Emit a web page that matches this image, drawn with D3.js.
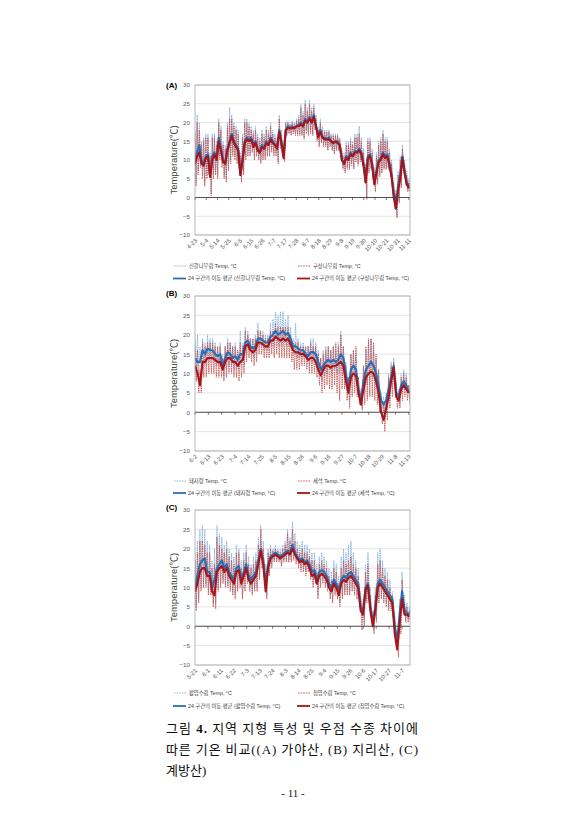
<!DOCTYPE html>
<html><head><meta charset="utf-8">
<script src="https://cdn.jsdelivr.net/npm/d3@7"></script>
<style>
html,body{margin:0;padding:0;background:#fff;}
svg{display:block;}
</style></head><body>
<svg id="page" width="585" height="840"></svg>
<script>
// ---------- tick labels ----------
const ticksA = ["4-23","5-4","5-14","5-25","6-5","6-15","6-26","7-7","7-17","7-28","8-7","8-18","8-29","9-8","9-19","9-30","10-10","10-21","10-31","11-11"];
const ticksB = ["6-2","6-13","6-23","7-4","7-14","7-25","8-5","8-15","8-26","9-6","9-16","9-27","10-7","10-18","10-29","11-8","11-19"];
const ticksC = ["5-21","6-1","6-11","6-22","7-3","7-13","7-24","8-3","8-14","8-25","9-4","9-15","9-26","10-6","10-17","10-27","11-7"];
const yTicks = [-10,-5,0,5,10,15,20,25,30];

// ---------- legend names ----------
const namesA = ["신갈나무림 Temp, °C","구상나무림 Temp, °C","24 구간의 이동 평균 (신갈나무림 Temp, °C)","24 구간의 이동 평균 (구상나무림 Temp, °C)"];
const namesB = ["돼지령 Temp, °C","세석 Temp, °C","24 구간의 이동 평균 (돼지령 Temp, °C)","24 구간의 이동 평균 (세석 Temp, °C)"];
const namesC = ["활엽수림 Temp, °C","침엽수림 Temp, °C","24 구간의 이동 평균 (활엽수림 Temp, °C)","24 구간의 이동 평균 (침엽수림 Temp, °C)"];

// ---------- (A) 가야산 : daily highs / lows (raw) and moving averages ----------
const aHiBlue = [18,22,20,15,16,17,17,12,17,17,15,21,19,15,14,20,24,22,20,19,18,12,17,21,21,20,19,18,19,17,16,18,17,19,18,20,18,17,16,22,18,14,20,20.5,20,20.5,20,21,22,25,23,26,24,26,24,25,22,19,21,19,18,18,18,17,17,17,17,16,13,12,15,15,16,15,17,17,19,16,13,9,16,16,13,8,12,15,16,18,16,16,13,10,4,2,7,11,14,10,7,5];
const aLoBlue = [4,7,9,6,4,6,7,1,6,7,6,11,9,6,5,8,10,12,11,10,9,5,7,11,12,12,13,11,12,11,10,11,11,12,12,13,12,12,9.5,14,12,10,17,17.5,17,17.5,17,17,17,17,16,18,17,18,17,19,16,14,15,14,14,13,14,13,12,13,13,12,8,7,8,8,9,8,10,9,10,9,5,0,7,8,6,2,4,6,7,8,8,8,6,3,-2,-5,-1,3,8,4,2,2];
const aHiRed = [17,20,18,14,15,16,16,11,16,16,14,20,18,14,13,19,21,21,19,18,17,11,16,20,20,19,18,17,18,16,15,17,16,18,17,19,17,16,15,21,17,13,20,20,19.5,20,19.5,20.5,21,24,22,25,23,25,23,24,21,18,20,18,17.5,17.5,17.5,16.5,16.5,16.5,16.5,15.5,12,11,14,14,15,14,16,16,17,15,12,8,15,15,12,7,11,14,15,17,15,15,12,9,3,1,6,10,13,9,6,4];
const aLoRed = [3,6,8,5,3,5,6,0.5,5,6,5,10,8,5,4,7,9,11,10,9,8,4,6,10,11,11,12,10,11,10,9,10,10,11,11,12,11,11,9,13,11,9.5,16.5,17,16.5,17,16.5,16.5,16.5,16.5,15.5,17,16.5,17,16.5,18,15,13.5,14.5,13.5,13.5,12.5,13.5,12.5,11.5,12.5,12.5,11.5,7.5,6.5,7.5,7.5,8.5,7.5,9.5,8.5,9.5,8.5,4,-0.5,6.5,7.5,5.5,1.5,3.5,5.5,6.5,7.5,7.5,7.5,5.5,2.5,-3,-5.5,-1.5,2.5,7.5,3.5,1.5,1.5];
const aAvgBlue = [10,12,14,10,9,11,11.5,6,11,12,10,16,13,10,9,13,15,17,15,14,13,6,10,15,16,15.5,16,14,15,13,12,14,13,15,14,16,15,14,13.5,18,15,11,18,19,18.5,19,18.5,19,19.5,20,19,21,20,21.5,20,22,19,16.5,18,16,16,15.5,16,15,14.5,15,15,14,10,9,11,10.5,12,11,12.5,12,13,12,9,5,11,11.5,9,4,7,10,10.5,12,11,11.5,9,6,1,-2,3,6,11,7,4,3];
const aAvgRed = [9,11,12,9,8.5,10.5,11,5.5,10,11.5,10,15,12.5,9.5,9,12.5,14.5,16.5,14.5,13.5,12.5,6,10,14.5,15.5,15,15.5,13.5,14.5,12.5,12,13.5,13,14.5,14,15.5,14.5,14,13,17.5,14.5,10.5,18,18.5,18.5,18.5,18.5,19,19,19.5,19,20.5,20,21,20,21.5,19,16,17.5,16,15.5,15.5,15.5,15,14.5,15,14.5,14,10,9,10.5,10,11.5,11,12,12,12.5,11.5,8.5,4,10.5,11,8.5,3.5,6.5,9.5,10,11.5,10.5,11,8.5,5.5,0,-3,2,5,10.5,6.5,3.5,2.5];

// ---------- (B) 지리산 ----------
const bHiBlue = [19,20,17,19,18,20,19,19,18,17,18,15,17,19,18,17,18,16,21,18,22,21,19,19,20,23,21,21,20,20,23,24,26,25,26,26,24,25,22,19,23,19,18,18,17,17,19,19,18,16,14,16,17,17,16,17,16,18,21,17,13,9,15,16,15,9,6,12,16,18,19,17,14,11,5,4,5,10,13,14,8,6,10,11,10,7];
const bLoBlue = [11,9,9,13,12,13,13,13,12,12,12,9,11,12,12,11,11,11,12,12,15,16,15,14,15,17,17,16,16,16,17,17,18,17,17,18,17,17,16,15,14,14,14,14,13,12,13,13,12,10,8,9,10,11,10,11,10,10,11,11,7,3,8,9,8,4,1,5,7,8,9,8,7,4,1,0,1,3,6,10,3,2,5,6,5,3];
const bHiRed = [17,16,11,18,17,18,18,18,17,17,17,14,17,18,18,17,17,16,18,17,21,20,19,19,19,21,21,20,19,19,21,21,23,22,22,22,22,22,20,18,18,18,17,17,17,17,18,17,17,15,14,15,16,17,16,17,18,17,20,17,12,9,15,16,17,9,5,12,17,19,19,18,15,11,4,2,3,9,12,13,7,5,9,10,9,7];
const bLoRed = [8,5,5,9,9,10,10,10,9,9,9,8,9,10,10,9,9,8,9,10,13,14,13,12,13,15,15,14,14,14,15,14,15,14,14,14,14,14,13,11,11,11,12,12,11,10,10,10,9,7,5,6,7,6,6,7,5,3,6,6,3,1,4,5,4,2,0.5,2,3,4,4,3,2,0,-3,-5,-2,1,4,9,1,1,3,4,3,2];
const bAvgBlue = [14,13,13,16,15,16.5,16,16,15,14.5,15,12,14,15.5,15,14,14.5,13.5,15,15,18,18.5,17,16.5,17,19,19,18.5,18,18,19.5,20,21,20,20.5,21,20,20.5,19,17,17,16.5,16,16,15,14.5,15.5,15.5,15,13,11,12,13,13.5,13,13.5,13,13.5,15,14,10,6,11,12,11,6,3,8,11,12,13,12,10,7,3,2,3,6,9,12,5,4,7,8,7,5];
const bAvgRed = [12,10,7,13,13,14,14,14,13.5,13,13,11,13,14,14,13,13,12,13,13.5,17,17.5,16,15.5,16,18,18,17.5,17,17,18.5,18.5,19.5,19,18.5,19,18.5,19,17.5,16,15.5,15.5,15,15,14.5,13.5,14,14,13,11,9.5,11,12,12,11.5,12,12,12.5,13,12,8,5,9,10,9.5,5,2,6,9,10,10.5,10,8,5,0,-2,1,4,8,11.5,4,3,6,7,6,5];

// ---------- (C) 계방산 ----------
const cHiBlue = [19,22,25,26,25,22,21,17,20,26,24,23,21,22,20,19,18,21,20,17,19,21,18,16,18,19,23,26,22,16,20,21,20,21,20,20,21,22,25,23,27,24,22,21,22,21,21,20,19,19,16,18,19,18,17,15,14,17,16,13,18,20,19,21,22,19,17,15,9,7,16,19,10,4,10,19,20,17,15,14,12,9,3,-1,7,14,8,6,5];
const cLoBlue = [5,7,10,11,11,9,9,6,6,10,11,12,11,11,10,9,8,10,11,8,10,12,10,9,10,10,13,16,14,8,14,16,17,17,17,16,17,17,17,17,18,17,16,15,15,14,15,13,11,12,8,11,12,11,10,8,7,9,8,6,8,9,9,9,10,9,8,7,2,1,7,8,2,-1,2,7,8,7,6,5,5,4,-2,-5,0,5,2,2,1];
const cHiRed = [17,19,22,22,21,19,19,15,16,23,21,20,19,20,18,17,16,19,19,15,17,19,16,15,16,17,21,25,20,13,19,20,19.5,20,19.5,19,20,21,24,22,25,22,20,19,20,19,19,18,17,17,14,16,17,16,15,13,12,15,14,11,15,17,16,17,18,16,15,13,7,5,14,16,8,2,8,16,17,15,13,12,10,8,1,-3,5,12,6,5,4];
const cLoRed = [4,6,9,10,10,8,8,5,4.5,9,10,11,10,10,9,8,7,9,10,7,9,11,9,8,9,9,12,15,12,7,13,15,16.5,16.5,16.5,15.5,16.5,16.5,16.5,16.5,17,16,15,14,14,13,14,12,10,11,7,10,11,10,9,7,6,8,7,5,7,8,8,8,9,8,7,6,-1,0,6,7,1,-2,1,6,7,6,5,4,4,3,-4,-8,-2,4,1,1,0.5];
const cAvgBlue = [10,13,16,17,17.5,14,14,10,12,15,16,17,15,16,14,13,12,15,15.5,12,14,16,13,12,13,14,17,20,17,11,16,18,18.5,19,18.5,18,18.5,19,19.5,19,21,19,18,17,17.5,16.5,17,16,14,14.5,12,14,14.5,14,13,11,10,12,11,9,12,13,12.5,13.5,14,13,12,11,5,4,10,11,5,1,5,11,12,11,10,9,8,7,0,-4,3,9,4,3.5,3];
const cAvgRed = [9,11,14,15,15,13,13,9,8,14,15,15.5,14,15,13,12,11,14,14.5,11,13,15,12,11,12,13,16,19.5,16,9,15,17.5,18,18.5,18,17.5,18,18.5,19,18.5,20,18.5,17.5,16.5,17,16,16.5,15,13,13.5,11,13,13.5,13,12,10,9,11,10,8,11,12,11.5,12.5,13,12,11,10,4,3,9.5,10.5,4,0,4,10,11,10,9,8,7,6,-2,-6,1,7,3,3,2.5];

// ---------- layout ----------
const COL = {rawBlue:"#86b3e0", rawRed:"#c0504d", avgBlue:"#2a6fb5", avgRed:"#a8141a"};
const FONT = "'Liberation Sans','Noto Sans CJK KR',sans-serif";
const panels = [
  {tag:"(A)", tagY:88, top:85, bottom:235, days:203, step:2.04, labelStep:10.625, ticks:ticksA, names:namesA, legY:266, legGap:12.5,
   hiB:aHiBlue, loB:aLoBlue, hiR:aHiRed, loR:aLoRed, avB:aAvgBlue, avR:aAvgRed},
  {tag:"(B)", tagY:296, top:296, bottom:451, days:171, step:2, labelStep:10.625, ticks:ticksB, names:namesB, legY:481, legGap:12,
   hiB:bHiBlue, loB:bLoBlue, hiR:bHiRed, loR:bLoRed, avB:bAvgBlue, avR:bAvgRed},
  {tag:"(C)", tagY:510, top:510, bottom:665, days:176.5, step:2, labelStep:10.625, ticks:ticksC, names:namesC, legY:693, legGap:13,
   hiB:cHiBlue, loB:cLoBlue, hiR:cHiRed, loR:cLoRed, avB:cAvgBlue, avR:cAvgRed}
];
const L = 195, R = 410;

const svg = d3.select("#page");
svg.append("rect").attr("width",585).attr("height",840).attr("fill","#fff");

panels.forEach((p, k) => {
  const x = d3.scaleLinear().domain([0, p.days]).range([L, R]);
  const y = d3.scaleLinear().domain([-10, 30]).range([p.bottom, p.top]);
  const g = svg.append("g");
  const tickPos = p.ticks.map((_, i) => i * p.labelStep);

  // grid
  g.append("g").selectAll("line").data(yTicks).join("line")
    .attr("x1", L).attr("x2", R).attr("y1", d => y(d)).attr("y2", d => y(d))
    .attr("stroke", "#d9d9d9").attr("stroke-width", 0.7);

  // y axis labels
  const ya = g.append("g").attr("transform", `translate(${L},0)`)
    .call(d3.axisLeft(y).tickValues(yTicks).tickSize(0).tickPadding(5));
  ya.select(".domain").remove();
  ya.selectAll("text").attr("font-family", FONT).attr("font-size", 6.2).attr("fill", "#595959");

  // x axis labels (below plot)
  const xa = g.append("g").attr("transform", `translate(0,${p.bottom})`)
    .call(d3.axisBottom(x).tickValues(tickPos).tickFormat((d, i) => p.ticks[i]).tickSize(0));
  xa.select(".domain").remove();
  xa.selectAll("text").attr("font-family", FONT).attr("font-size", 5.9).attr("fill", "#595959")
    .attr("text-anchor", "end").attr("y", 0).attr("dy", 0)
    .attr("transform", "translate(2,6) rotate(-45)");

  // clip
  const cid = "clip" + k;
  svg.append("clipPath").attr("id", cid).append("rect")
    .attr("x", L).attr("y", p.top).attr("width", R - L).attr("height", p.bottom - p.top);
  const plot = g.append("g").attr("clip-path", `url(#${cid})`);

  const line = d3.line().x(d => x(d[0])).y(d => y(d[1]));
  const zig = (hi, lo) => hi.flatMap((h, i) => [[i * p.step, h], [i * p.step + p.step / 2, lo[i]]]);
  const avg = arr => arr.map((v, i) => [i * p.step, v]);

  plot.append("path").attr("d", line(zig(p.hiB, p.loB))).attr("fill", "none")
    .attr("stroke", COL.rawBlue).attr("stroke-width", 0.9).attr("stroke-dasharray", "1.5,0.8");
  plot.append("path").attr("d", line(zig(p.hiR, p.loR))).attr("fill", "none")
    .attr("stroke", COL.rawRed).attr("stroke-width", 0.85).attr("stroke-dasharray", "1.5,0.8");
  plot.append("path").attr("d", line(avg(p.avB))).attr("fill", "none")
    .attr("stroke", COL.avgBlue).attr("stroke-width", 2.2).attr("stroke-linejoin", "round");
  plot.append("path").attr("d", line(avg(p.avR))).attr("fill", "none")
    .attr("stroke", COL.avgRed).attr("stroke-width", 2.1).attr("stroke-linejoin", "round");

  // zero line with tick marks, and frame
  g.append("line").attr("x1", L).attr("x2", R).attr("y1", y(0)).attr("y2", y(0))
    .attr("stroke", "#404040").attr("stroke-width", 0.9);
  g.append("g").selectAll("line").data(tickPos).join("line")
    .attr("x1", d => x(d)).attr("x2", d => x(d)).attr("y1", y(0)).attr("y2", y(0) + 2.5)
    .attr("stroke", "#404040").attr("stroke-width", 0.7);
  g.append("rect").attr("x", L).attr("y", p.top).attr("width", R - L).attr("height", p.bottom - p.top)
    .attr("fill", "none").attr("stroke", "#a6a6a6").attr("stroke-width", 0.8);

  // titles
  g.append("text").attr("x", 166).attr("y", p.tagY).text(p.tag)
    .attr("font-family", FONT).attr("font-weight", "bold").attr("font-size", 8).attr("fill", "#000");
  g.append("text").attr("transform", `translate(177,${(p.top + p.bottom) / 2}) rotate(-90)`)
    .attr("text-anchor", "middle").text("Temperature(℃)")
    .attr("font-family", FONT).attr("font-size", 9.5).attr("fill", "#404040");

  // legend
  const leg = [
    {x:174, y:p.legY, c:COL.rawBlue, dash:"1.6,1", w:0.9},
    {x:298, y:p.legY, c:COL.rawRed, dash:"1.6,1", w:0.9},
    {x:173, y:p.legY + p.legGap, c:COL.avgBlue, dash:null, w:1.8},
    {x:297, y:p.legY + p.legGap, c:COL.avgRed, dash:null, w:1.8}
  ];
  leg.forEach((e, j) => {
    g.append("line").attr("x1", e.x).attr("x2", e.x + 13).attr("y1", e.y).attr("y2", e.y)
      .attr("stroke", e.c).attr("stroke-width", e.w).attr("stroke-dasharray", e.dash);
    g.append("text").attr("x", e.x + 15).attr("y", e.y + 1.9).text(p.names[j])
      .attr("font-family", FONT).attr("font-size", 5.3).attr("fill", "#404040");
  });
});

// caption
const CF = "'Liberation Serif','Noto Sans CJK KR',serif";
const cap = svg.append("g").attr("font-family", CF).attr("font-size", 13).attr("fill", "#111");
const t1 = cap.append("text").attr("x", 166).attr("y", 733).attr("textLength", 252).attr("lengthAdjust", "spacing");
t1.append("tspan").text("그림 ");
t1.append("tspan").attr("font-weight", "bold").text("4.");
t1.append("tspan").text(" 지역 지형 특성 및 우점 수종 차이에");
cap.append("text").attr("x", 166).attr("y", 754).attr("textLength", 252).attr("lengthAdjust", "spacing")
  .text("따른 기온 비교((A) 가야산, (B) 지리산, (C)");
cap.append("text").attr("x", 166).attr("y", 775).text("계방산)");
svg.append("text").attr("x", 293).attr("y", 797).attr("text-anchor", "middle")
  .attr("font-family", CF).attr("font-size", 11).attr("fill", "#111").text("- 11 -");
</script>
</body></html>
